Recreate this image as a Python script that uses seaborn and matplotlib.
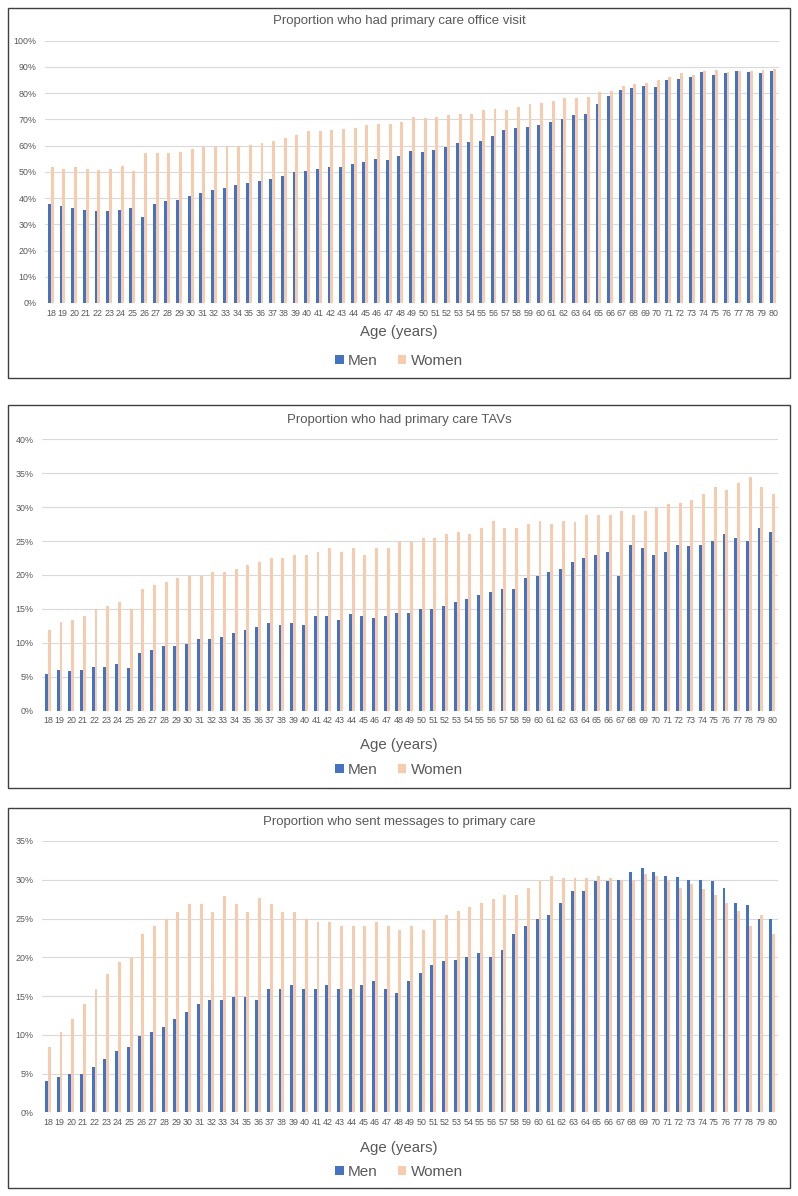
import matplotlib
matplotlib.use("Agg")
import matplotlib.pyplot as plt
import matplotlib.patches as mpatches
from matplotlib.ticker import PercentFormatter, MultipleLocator
import seaborn as sns
import pandas as pd

ages = list(range(18, 81))

office_men = [37.9,36.8,36.1,35.4,35.0,35.0,35.4,36.1,32.8,37.9,39.0,39.4,40.8,
              41.9,42.9,44.0,44.8,45.9,46.7,47.3,48.4,49.8,50.5,
              50.9,52.0,52.0,53.1,53.8,54.9,54.6,56.0,57.8,57.4,
              58.5,59.4,61.1,61.5,61.9,63.7,65.8,66.6,67.0,67.7,
              69.0,70.2,71.6,72.0,75.9,78.8,81.3,82.1,82.8,82.4,
              85.0,85.4,86.2,87.9,86.9,87.5,88.6,87.9,87.5,88.6]
office_women = [51.9,51.2,51.9,51.2,50.8,51.2,52.4,50.5,57.2,57.2,57.2,57.7,58.8,
                59.3,59.3,60.0,60.0,60.4,61.0,61.8,62.9,64.0,65.4,
                65.4,65.8,66.5,66.9,67.9,68.3,68.3,69.0,70.9,70.5,
                70.8,71.6,72.2,72.2,73.4,74.1,73.4,74.9,75.9,76.3,
                77.0,78.0,78.0,78.4,80.6,81.0,82.7,83.5,83.9,85.0,
                86.0,87.6,86.8,88.6,89.0,87.9,88.6,88.6,89.0,89.3]
tav_men = [5.4,6.0,5.9,6.0,6.4,6.4,6.9,6.3,8.5,8.9,9.5,9.6,9.9,
           10.5,10.5,10.9,11.5,11.9,12.4,12.9,12.6,12.9,12.6,
           14.0,14.0,13.4,14.3,14.0,13.7,14.0,14.4,14.4,15.0,
           15.0,15.4,16.0,16.5,17.0,17.5,17.9,17.9,19.5,19.9,
           20.5,20.9,21.9,22.5,22.9,23.4,19.9,24.4,24.0,22.9,
           23.4,24.4,24.3,24.4,25.0,26.0,25.5,25.0,27.0,26.4]
tav_women = [11.9,13.0,13.4,14.0,15.0,15.4,16.0,15.0,17.9,18.5,18.9,19.5,19.9,
             19.9,20.5,20.5,20.9,21.5,21.9,22.5,22.5,22.9,22.9,
             23.4,24.0,23.4,24.0,22.9,24.0,24.0,24.9,24.9,25.5,
             25.4,26.0,26.4,26.0,27.0,28.0,27.0,27.0,27.5,28.0,
             27.5,28.0,27.8,28.9,28.9,28.9,29.4,28.9,29.4,30.0,
             30.4,30.6,31.0,31.9,33.0,32.6,33.5,34.4,33.0,31.9]
msg_men = [4.0,4.5,5.0,5.0,5.9,6.9,7.9,8.4,9.9,10.4,11.0,12.0,13.0,
           14.0,14.5,14.5,14.9,14.9,14.5,15.9,15.9,16.4,15.9,
           15.9,16.4,15.9,15.9,16.4,16.9,15.9,15.4,16.9,18.0,
           19.0,19.5,19.6,20.0,20.5,20.0,21.0,23.0,24.0,25.0,
           25.5,27.0,28.5,28.5,29.9,29.9,30.0,31.0,31.5,31.0,
           30.5,30.3,30.0,30.0,29.9,29.0,27.0,26.7,25.0,25.0]
msg_women = [8.4,10.4,12.0,14.0,15.9,17.9,19.4,19.9,23.0,24.0,25.0,25.9,26.9,
             26.9,25.9,27.9,26.9,25.9,27.6,26.9,25.9,25.9,25.0,
             24.5,24.5,24.0,24.0,24.0,24.5,24.0,23.5,24.0,23.5,
             25.0,25.5,26.0,26.5,27.0,27.5,28.0,28.0,29.0,30.0,
             30.5,30.2,30.2,30.2,30.5,30.2,30.0,30.0,30.8,30.5,
             30.0,29.0,29.5,28.8,28.0,27.0,26.0,24.0,25.5,23.0]

titles = ["Proportion who had primary care office visit",
          "Proportion who had primary care TAVs",
          "Proportion who sent messages to primary care"]
series = [(office_men, office_women), (tav_men, tav_women), (msg_men, msg_women)]
ymax = [100, 40, 35]
ystep = [10, 5, 5]

sns.set_theme(style="white")
plt.rcParams['font.family'] = ['Liberation Sans', 'DejaVu Sans']

W, H = 798, 1196
fig = plt.figure(figsize=(W / 100, H / 100), dpi=100)

def fx(px):
    return px / W

def fy(py):
    return 1 - py / H

# (left, right, top_of_plot, zero_line, title_y, xlabel_y, legend_y, box_top, box_bottom)
layout = [
    (45, 779, 40.7, 303.0, 21, 332, 361, 8, 378),
    (42, 778, 439.3, 710.7, 420, 745, 770, 405, 788),
    (42, 778, 841.0, 1112.3, 822, 1148, 1172, 808, 1188),
]

gray = "#595959"
colors = {"Men": "#4472C4", "Women": "#F8CBAD"}

for i, (lay, (men, women)) in enumerate(zip(layout, series)):
    left, right, top, zero, ty, xly, lgy, bt, bb = lay
    ax = fig.add_axes([fx(left), fy(zero), fx(right) - fx(left), (zero - top) / H])
    df = pd.DataFrame({
        "Age": [str(a) for a in ages] * 2,
        "Value": men + women,
        "Sex": ["Men"] * len(ages) + ["Women"] * len(ages),
    })
    sns.barplot(data=df, x="Age", y="Value", hue="Sex", palette=colors,
                width=0.5, ax=ax, saturation=1, linewidth=0)
    ax.set_xlim(-0.5, len(ages) - 0.5)
    ax.set_ylim(0, ymax[i])
    ax.yaxis.set_major_locator(MultipleLocator(ystep[i]))
    ax.yaxis.set_major_formatter(PercentFormatter(decimals=0))
    ax.grid(axis="y", color="#D9D9D9", linewidth=0.8)
    ax.set_axisbelow(True)
    for s in ax.spines.values():
        s.set_visible(False)
    ax.tick_params(axis="both", length=0, labelsize=6.4, colors=gray)
    ax.tick_params(axis="x", pad=4)
    ax.tick_params(axis="y", pad=6)
    ax.set_xlabel("")
    ax.set_ylabel("")
    handles, labels = ax.get_legend_handles_labels()
    if ax.get_legend() is not None:
        ax.get_legend().remove()
    fig.legend(handles, labels, loc="center", bbox_to_anchor=(0.5, fy(lgy)),
               ncol=2, frameon=False, fontsize=11, handlelength=0.55,
               handleheight=0.55, handletextpad=0.3, columnspacing=1.3,
               labelcolor=gray)
    fig.text(0.5, fy(ty), titles[i], ha="center", va="center",
             fontsize=9.5, color=gray)
    fig.text(0.5, fy(xly), "Age (years)", ha="center", va="center",
             fontsize=10.8, color=gray)
    rect = mpatches.Rectangle((fx(8), fy(bb)), fx(790) - fx(8), (bb - bt) / H,
                              transform=fig.transFigure, fill=False,
                              edgecolor="#404040", linewidth=1.0)
    fig.patches.append(rect)

fig.savefig("out.png", dpi=100, facecolor="white")
